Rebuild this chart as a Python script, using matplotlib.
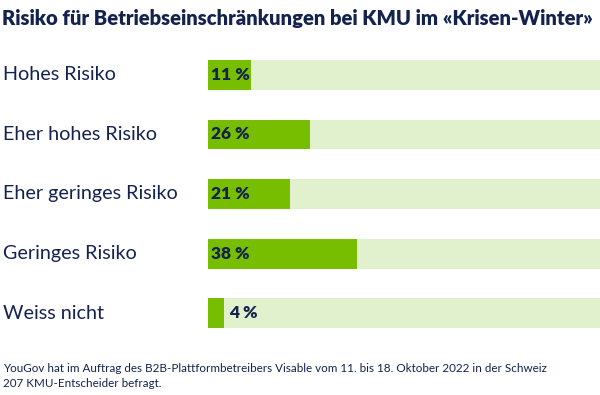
import matplotlib
matplotlib.use('Agg')
import matplotlib.pyplot as plt
import matplotlib.transforms as mtransforms

categories = ['Hohes Risiko', 'Eher hohes Risiko', 'Eher geringes Risiko', 'Geringes Risiko', 'Weiss nicht']
values = [11, 26, 21, 38, 4]
title = 'Risiko für Betriebseinschränkungen bei KMU im «Krisen-Winter»'
note = ('YouGov hat im Auftrag des B2B-Plattformbetreibers Visable vom 11. bis 18. Oktober 2022 in der Schweiz\n'
        '207 KMU-Entscheider befragt.')

NAVY = '#14224F'
GREEN = '#77BE00'
TRACK = '#E2F1CD'
FONT = ['Lato', 'DejaVu Sans']

plt.rcParams['font.family'] = FONT

W, H = 600, 395
fig = plt.figure(figsize=(W / 100, H / 100), dpi=100)
fig.patch.set_facecolor('white')

# axes in pixel terms: x 208..600, y 45..343 (from top)
ax = fig.add_axes([208 / W, 1 - 343 / H, 392 / W, 298 / H])
ax.set_xlim(0, 100)
ax.set_ylim(len(categories) - 0.5, -0.5)
ax.axis('off')

ypos = range(len(categories))
ax.barh(ypos, [100] * len(categories), height=0.5, color=TRACK, linewidth=0)
ax.barh(ypos, values, height=0.5, color=GREEN, linewidth=0)

lab_tr = mtransforms.blended_transform_factory(fig.transFigure, ax.transData)
for y, cat, v in zip(ypos, categories, values):
    ax.text(3 / W, y, cat, transform=lab_tr, ha='left', va='center',
            fontsize=14.2, color=NAVY)
    # short bars get the label right after the bar
    if v >= 8:
        x0, dx = 0, 3
    else:
        x0, dx = v, 5
    off = mtransforms.offset_copy(ax.transData, fig=fig, x=dx * 0.72, y=0, units='points')
    ax.text(x0, y, f'{v} %', transform=off, ha='left', va='center',
            fontsize=12.5, fontweight='heavy', color=NAVY)

fig.text(2 / W, 1 - 18 / H, title, ha='left', va='center', fontsize=14.6,
         fontweight='heavy', color=NAVY)
fig.text(3 / W, 1 - 376 / H, note, ha='left', va='center', fontsize=8.35,
         color=NAVY, linespacing=1.4)

fig.savefig('out.png', dpi=100, facecolor='white')
